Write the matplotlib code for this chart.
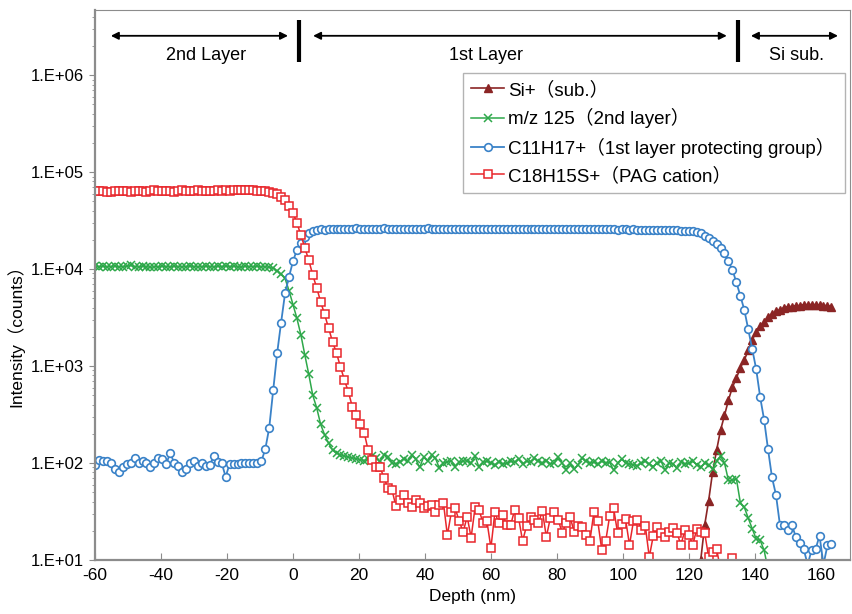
"""
TOF-SIMS depth profile of a two-layer resist stack on Si.
Output: out.png
"""

import matplotlib

matplotlib.use("Agg")
import matplotlib.pyplot as plt
import numpy as np
from matplotlib import font_manager
from matplotlib.ticker import FixedLocator, LogLocator, NullFormatter

# --- data -------------------------------------------------------------------
# sputter depth, one cycle every ~1.2 nm
DEPTH = [
    -60.0, -58.8, -57.6, -56.4, -55.2, -54.0, -52.8, -51.6, -50.4, -49.2,
    -48.0, -46.8, -45.6, -44.4, -43.2, -42.0, -40.8, -39.6, -38.4, -37.2,
    -36.0, -34.8, -33.6, -32.4, -31.2, -30.0, -28.8, -27.6, -26.4, -25.2,
    -24.0, -22.8, -21.6, -20.4, -19.2, -18.0, -16.8, -15.6, -14.4, -13.2,
    -12.0, -10.8, -9.6, -8.4, -7.2, -6.0, -4.8, -3.6, -2.4, -1.2,
    0.0, 1.2, 2.4, 3.6, 4.8, 6.0, 7.2, 8.4, 9.6, 10.8,
    12.0, 13.2, 14.4, 15.6, 16.8, 18.0, 19.2, 20.4, 21.6, 22.8,
    24.0, 25.2, 26.4, 27.6, 28.8, 30.0, 31.2, 32.4, 33.6, 34.8,
    36.0, 37.2, 38.4, 39.6, 40.8, 42.0, 43.2, 44.4, 45.6, 46.8,
    48.0, 49.2, 50.4, 51.6, 52.8, 54.0, 55.2, 56.4, 57.6, 58.8,
    60.0, 61.2, 62.4, 63.6, 64.8, 66.0, 67.2, 68.4, 69.6, 70.8,
    72.0, 73.2, 74.4, 75.6, 76.8, 78.0, 79.2, 80.4, 81.6, 82.8,
    84.0, 85.2, 86.4, 87.6, 88.8, 90.0, 91.2, 92.4, 93.6, 94.8,
    96.0, 97.2, 98.4, 99.6, 100.8, 102.0, 103.2, 104.4, 105.6, 106.8,
    108.0, 109.2, 110.4, 111.6, 112.8, 114.0, 115.2, 116.4, 117.6, 118.8,
    120.0, 121.2, 122.4, 123.6, 124.8, 126.0, 127.2, 128.4, 129.6, 130.8,
    132.0, 133.2, 134.4, 135.6, 136.8, 138.0, 139.2, 140.4, 141.6, 142.8,
    144.0, 145.2, 146.4, 147.6, 148.8, 150.0, 151.2, 152.4, 153.6, 154.8,
    156.0, 157.2, 158.4, 159.6, 160.8, 162.0, 163.2,
]

# Si+ (substrate), last 34 cycles only
SI_PLUS = [
    10, 23, 41, 81, 135, 218, 310, 445, 605, 750,
    960, 1150, 1460, 1860, 2240, 2580, 2840, 3200, 3460, 3660,
    3800, 4000, 4100, 4100, 4200, 4200, 4300, 4300, 4300, 4300,
    4250, 4200, 4200, 4100,
]

# m/z 125 (2nd layer), from the first cycle
MZ125 = [
    10800, 10600, 10700, 10500, 10600, 10800, 10500, 10600, 10700, 10900,
    10600, 10500, 10700, 10600, 10400, 10600, 10500, 10700, 10600, 10500,
    10700, 10600, 10500, 10600, 10800, 10600, 10500, 10600, 10700, 10600,
    10500, 10700, 10600, 10800, 10600, 10700, 10600, 10500, 10700, 10600,
    10600, 10700, 10500, 10600, 10400, 10200, 9600, 8800, 8000, 6000,
    4300, 3100, 2100, 1300, 820, 500, 370, 250, 195, 160,
    136, 126, 122, 118, 115, 113, 111, 108, 106, 110,
    118, 112, 104, 122, 116, 100, 98, 103, 110, 105,
    120, 110, 90, 115, 105, 120, 112, 88, 100, 103,
    105, 92, 102, 104, 106, 100, 118, 90, 102, 104,
    100, 96, 102, 98, 100, 104, 102, 110, 98, 104,
    102, 112, 104, 100, 106, 98, 100, 115, 100, 85,
    100, 86, 96, 112, 104, 100, 102, 98, 104, 100,
    102, 84, 100, 110, 100, 98, 96, 94, 100, 104,
    98, 92, 100, 104, 84, 100, 98, 88, 102, 98,
    100, 104, 96, 90, 100, 95, 86, 104, 118, 100,
    66, 66, 69, 39, 35, 27, 21, 16.5, 16, 12.6,
    8,
]

# C11H17+ (1st layer protecting group), all cycles
C11H17 = [
    95, 107, 105, 105, 100, 87, 81, 91, 98, 100,
    112, 100, 105, 100, 91, 100, 112, 110, 98, 127,
    100, 93, 81, 87, 100, 105, 93, 100, 93, 95,
    118, 102, 100, 72, 98, 98, 98, 99, 100, 100,
    100, 100, 104, 138, 230, 560, 1350, 2800, 5600, 8300,
    12000, 15800, 18600, 21500, 23600, 24600, 25300, 25600, 25500, 25700,
    25800, 26000, 25900, 26100, 26000, 25900, 26200, 26000, 25800, 26100,
    26000, 25900, 26100, 26200, 26000, 25800, 26000, 26100, 25900, 26000,
    26100, 26000, 25900, 26000, 26200, 26000, 25900, 26100, 26000, 25800,
    26000, 26100, 25900, 26000, 26000, 25800, 26000, 26100, 25900, 26000,
    25900, 26000, 26100, 25800, 26000, 25900, 26000, 26100, 25900, 25800,
    26000, 25900, 25800, 26000, 25900, 25800, 26000, 25700, 25900, 25800,
    25700, 25900, 25800, 25600, 25800, 25700, 25900, 25600, 25700, 25800,
    25600, 25700, 25500, 25700, 25600, 25400, 25600, 25500, 25300, 25500,
    25400, 25200, 25400, 25300, 25100, 25200, 25000, 25100, 24900, 24800,
    24600, 24400, 24100, 23500, 22000, 20700, 19500, 18000, 16500, 14500,
    12000, 9800, 7300, 5300, 3800, 2400, 1500, 930, 480, 280,
    138, 71, 47, 23, 23, 20.4, 23, 17.4, 14.8, 12.9,
    9.0, 12.6, 12.9, 17.8, 9.0, 14.1, 14.5,
]

# C18H15S+ (PAG cation), from the first cycle
C18H15S = [
    64000, 63500, 64500, 63000, 62500, 64000, 63500, 64500, 64000, 62500,
    63500, 64500, 64000, 63000, 64000, 65000, 64000, 63500, 64500, 64000,
    63000, 64000, 65000, 64500, 63500, 64000, 65000, 64500, 64000, 63500,
    64500, 65000, 64000, 65500, 64500, 65000, 65500, 66000, 65000, 65500,
    65000, 64500, 64000, 63500, 62500, 61500, 59000, 55500, 51000, 45000,
    38000, 29900, 22400, 16600, 12300, 8700, 6400, 4600, 3400, 2450,
    1780, 1360, 980, 720, 540, 380, 315, 250, 205, 135,
    107, 91, 91, 70, 55, 53, 36, 42, 47, 39,
    35, 42, 39, 34, 36, 37, 31, 37, 39, 18,
    31, 34, 25, 19.5, 28, 17, 35, 33, 24, 25,
    13.3, 31, 24, 29, 23, 23, 33, 27, 15.7, 22.4,
    28, 26, 24, 32, 17.3, 27, 31, 26, 19, 24,
    28, 19.5, 22.4, 22, 18, 15.7, 31, 25, 12.7, 15.7,
    28.5, 34, 19, 23.5, 26.5, 14.3, 25, 26, 20.4, 22.4,
    10.7, 17.7, 22, 19, 17.3, 19.5, 21.4, 19, 14.3, 20.4,
    18, 14.3, 21, 19.5, 19, 10.7, 12.1, 13, 8, 7.5,
    8.5, 10.5,
]

LABELS = [
    "Si+（sub.）",
    "m/z 125（2nd layer）",
    "C11H17+（1st layer protecting group）",
    "C18H15S+（PAG cation）",
]

# layer annotation along the top (depth, nm)
LAYER_NAMES = ["2nd Layer", "1st Layer", "Si sub."]
LAYER_SPANS = [(-55.2, -1.5), (6.1, 131.5), (138.8, 165.2)]
LAYER_TEXT_X = [-26.4, 58.5, 152.7]
BOUNDARIES = [1.8, 134.8]

XTICKS = [-60, -40, -20, 0, 20, 40, 60, 80, 100, 120, 140, 160]
YTICKS = [1e1, 1e2, 1e3, 1e4, 1e5, 1e6]
YTICK_LABELS = ["1.E+01", "1.E+02", "1.E+03", "1.E+04", "1.E+05", "1.E+06"]

# --- style -------------------------------------------------------------------
names = {f.name for f in font_manager.fontManager.ttflist}
BASE = "Liberation Sans Narrow" if "Liberation Sans Narrow" in names else "Liberation Sans"
plt.rcParams["font.family"] = ["Liberation Sans", "Noto Sans CJK JP", "DejaVu Sans"]

C_SI = "#8b2525"
C_MZ = "#2ea84a"
C_C11 = "#3a82c8"
C_C18 = "#e8262b"
GREY = "#8c8c8c"


def main() -> None:
    fig = plt.figure(figsize=(8.52, 6.14), dpi=100)
    ax = fig.add_axes([0.1115, 0.088, 0.886, 0.8958])

    d = np.array(DEPTH)
    ax.plot(d[-len(SI_PLUS):], SI_PLUS, "-^", color=C_SI, lw=1.2, ms=5.5,
            mec=C_SI, mfc=C_SI, label=LABELS[0])
    ax.plot(d[:len(MZ125)], MZ125, "-x", color=C_MZ, lw=1.1, ms=5.5,
            mew=1.1, label=LABELS[1])
    ax.plot(d[:len(C11H17)], C11H17, "-o", color=C_C11, lw=1.3, ms=5.5,
            mfc="white", mew=1.2, label=LABELS[2])
    ax.plot(d[:len(C18H15S)], C18H15S, "-s", color=C_C18, lw=1.1, ms=5.8,
            mfc="white", mew=1.1, label=LABELS[3])

    ax.set_yscale("log")
    ax.set_xlim(-60, 168.8)
    ax.set_ylim(10, 4.7e6)
    ax.xaxis.set_major_locator(FixedLocator(XTICKS))
    ax.set_xticklabels([str(v) for v in XTICKS], family=BASE, fontsize=12.5)
    ax.yaxis.set_major_locator(FixedLocator(YTICKS))
    ax.set_yticklabels(YTICK_LABELS, family=BASE, fontsize=12)
    ax.yaxis.set_minor_locator(LogLocator(base=10, subs=np.arange(2, 10)))
    ax.yaxis.set_minor_formatter(NullFormatter())
    ax.tick_params(axis="x", direction="in", length=5, color=GREY, pad=6)
    ax.tick_params(axis="y", which="major", direction="out", length=4, color=GREY, pad=4)
    ax.tick_params(axis="y", which="minor", direction="out", length=2.5, color=GREY)
    for side, sp in ax.spines.items():
        sp.set_color(GREY)
        sp.set_linewidth(1.6 if side in ("left", "bottom") else 0.8)

    ax.set_xlabel("Depth (nm)", family=BASE, fontsize=12.5, labelpad=4)
    ax.set_ylabel("Intensity（counts）", fontsize=12.5)
    ax.yaxis.set_label_coords(-0.094, 0.415)

    # layer annotations
    tr = ax.get_xaxis_transform()
    for (x0, x1), name, tx in zip(LAYER_SPANS, LAYER_NAMES, LAYER_TEXT_X):
        ax.annotate("", xy=(x0, 0.953), xytext=(x1, 0.953), xycoords=tr,
                    arrowprops=dict(arrowstyle="<|-|>", color="black", lw=1.3,
                                    shrinkA=0, shrinkB=0, mutation_scale=11))
        ax.text(tx, 0.917, name, transform=tr, ha="center", va="center",
                family=BASE, fontsize=13)
    for b in BOUNDARIES:
        ax.plot([b, b], [0.905, 0.982], transform=tr, color="black", lw=3,
                solid_capstyle="butt")

    # legend box spans 463..845 px horizontally
    leg = ax.legend(loc="upper left", bbox_to_anchor=(0.4874, 0.886, 0.506, 0.0),
                    mode="expand", fontsize=13.5, frameon=True, fancybox=False,
                    handlelength=1.75, handletextpad=0.2, labelspacing=0.5,
                    borderpad=0.45, borderaxespad=0)
    leg.get_frame().set_edgecolor("#a0a0a0")
    leg.get_frame().set_linewidth(1.0)

    fig.savefig("out.png", dpi=100)
    plt.close(fig)


if __name__ == "__main__":
    main()
